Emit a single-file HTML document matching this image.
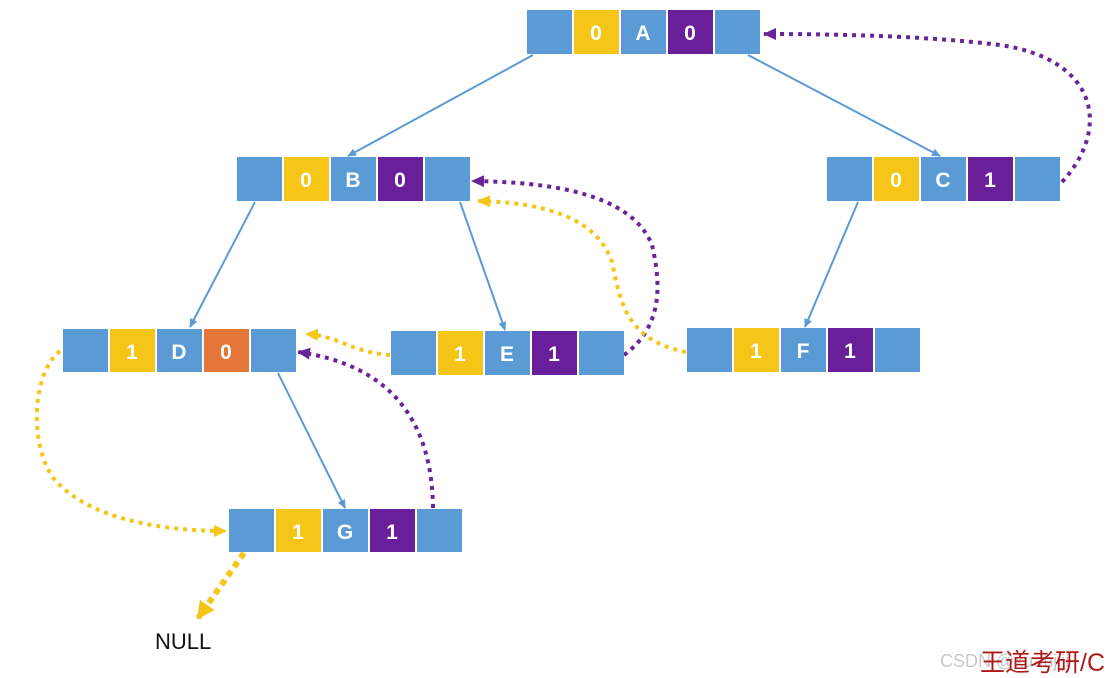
<!DOCTYPE html>
<html><head><meta charset="utf-8"><style>
html,body{margin:0;padding:0;background:#fff;width:1107px;height:678px;overflow:hidden}
svg{display:block}
text{font-family:"Liberation Sans",sans-serif}
</style></head><body>
<svg width="1107" height="678" viewBox="0 0 1107 678" xmlns="http://www.w3.org/2000/svg">
<defs>
<marker id="ab" markerWidth="10" markerHeight="10" refX="8" refY="5" orient="auto" markerUnits="userSpaceOnUse"><path d="M0,1 L9,5 L0,9 Z" fill="#5b9bd5"/></marker>
<marker id="ap" markerWidth="14" markerHeight="14" refX="12" refY="7" orient="auto" markerUnits="userSpaceOnUse"><path d="M0,1 L13,7 L0,13 Z" fill="#6a2499"/></marker>
<marker id="ay" markerWidth="14" markerHeight="14" refX="12" refY="7" orient="auto" markerUnits="userSpaceOnUse"><path d="M0,1 L13,7 L0,13 Z" fill="#f5c518"/></marker>
<marker id="ay2" markerWidth="20" markerHeight="20" refX="16" refY="10" orient="auto" markerUnits="userSpaceOnUse"><path d="M0,1 L18,10 L0,19 Z" fill="#f5c518"/></marker>
</defs>
<g stroke="#5b9bd5" stroke-width="2" fill="none" marker-end="url(#ab)">
<line x1="533" y1="55" x2="348" y2="156"/>
<line x1="748" y1="55" x2="940" y2="156"/>
<line x1="255" y1="202" x2="190" y2="327"/>
<line x1="460" y1="202" x2="505" y2="330"/>
<line x1="858" y1="202" x2="805" y2="327"/>
<line x1="278" y1="373" x2="345" y2="508"/>
</g>
<g fill="none" stroke-width="4" stroke-dasharray="4 5">
<path d="M1062,182 C1110,130 1100,60 1000,45 C920,35 820,34 764,34" stroke="#6a2499" marker-end="url(#ap)"/>
<path d="M624,355 C665,325 660,280 652,245 C630,190 540,182 472,181" stroke="#6a2499" marker-end="url(#ap)"/>
<path d="M686,352 C625,340 620,300 612,262 C595,212 530,202 478,201" stroke="#f5c518" marker-end="url(#ay)"/>
<path d="M390,355 C350,352 340,336 306,334" stroke="#f5c518" marker-end="url(#ay)"/>
<path d="M433,508 C432,420 390,365 298,352" stroke="#6a2499" marker-end="url(#ap)"/>
<path d="M60,351 C30,375 30,450 55,480 C95,525 180,531 226,531" stroke="#f5c518" marker-end="url(#ay)"/>
<path d="M244,553 L198,618" stroke="#f5c518" stroke-width="6" stroke-dasharray="6 5" marker-end="url(#ay2)"/>
</g>
<g font-size="21" font-weight="bold" fill="#fff" text-anchor="middle">
<!-- A -->
<g transform="translate(527,10)"><rect x="0" width="45" height="44" fill="#5b9bd5"/><rect x="47" width="45" height="44" fill="#f5c518"/><rect x="94" width="45" height="44" fill="#5b9bd5"/><rect x="141" width="45" height="44" fill="#6a1f9a"/><rect x="188" width="45" height="44" fill="#5b9bd5"/><text x="69" y="30">0</text><text x="116" y="30">A</text><text x="163" y="30">0</text></g>
<g transform="translate(237,157)"><rect x="0" width="45" height="44" fill="#5b9bd5"/><rect x="47" width="45" height="44" fill="#f5c518"/><rect x="94" width="45" height="44" fill="#5b9bd5"/><rect x="141" width="45" height="44" fill="#6a1f9a"/><rect x="188" width="45" height="44" fill="#5b9bd5"/><text x="69" y="30">0</text><text x="116" y="30">B</text><text x="163" y="30">0</text></g>
<g transform="translate(827,157)"><rect x="0" width="45" height="44" fill="#5b9bd5"/><rect x="47" width="45" height="44" fill="#f5c518"/><rect x="94" width="45" height="44" fill="#5b9bd5"/><rect x="141" width="45" height="44" fill="#6a1f9a"/><rect x="188" width="45" height="44" fill="#5b9bd5"/><text x="69" y="30">0</text><text x="116" y="30">C</text><text x="163" y="30">1</text></g>
<g transform="translate(63,329)"><rect x="0" width="45" height="43" fill="#5b9bd5"/><rect x="47" width="45" height="43" fill="#f5c518"/><rect x="94" width="45" height="43" fill="#5b9bd5"/><rect x="141" width="45" height="43" fill="#e4763a"/><rect x="188" width="45" height="43" fill="#5b9bd5"/><text x="69" y="30">1</text><text x="116" y="30">D</text><text x="163" y="30">0</text></g>
<g transform="translate(391,331)"><rect x="0" width="45" height="44" fill="#5b9bd5"/><rect x="47" width="45" height="44" fill="#f5c518"/><rect x="94" width="45" height="44" fill="#5b9bd5"/><rect x="141" width="45" height="44" fill="#6a1f9a"/><rect x="188" width="45" height="44" fill="#5b9bd5"/><text x="69" y="30">1</text><text x="116" y="30">E</text><text x="163" y="30">1</text></g>
<g transform="translate(687,328)"><rect x="0" width="45" height="44" fill="#5b9bd5"/><rect x="47" width="45" height="44" fill="#f5c518"/><rect x="94" width="45" height="44" fill="#5b9bd5"/><rect x="141" width="45" height="44" fill="#6a1f9a"/><rect x="188" width="45" height="44" fill="#5b9bd5"/><text x="69" y="30">1</text><text x="116" y="30">F</text><text x="163" y="30">1</text></g>
<g transform="translate(229,509)"><rect x="0" width="45" height="43" fill="#5b9bd5"/><rect x="47" width="45" height="43" fill="#f5c518"/><rect x="94" width="45" height="43" fill="#5b9bd5"/><rect x="141" width="45" height="43" fill="#6a1f9a"/><rect x="188" width="45" height="43" fill="#5b9bd5"/><text x="69" y="30">1</text><text x="116" y="30">G</text><text x="163" y="30">1</text></g>
</g>
<text x="155" y="649" font-size="22" fill="#111">NULL</text>
<text x="940" y="667" font-size="18" fill="#c8c8c8">CSDN @xuanjiji</text>
<text x="980" y="671" font-size="25" fill="#b01818" font-family="'Liberation Sans','Noto Sans CJK SC',sans-serif">王道考研/C</text>
</svg>
</body></html>
